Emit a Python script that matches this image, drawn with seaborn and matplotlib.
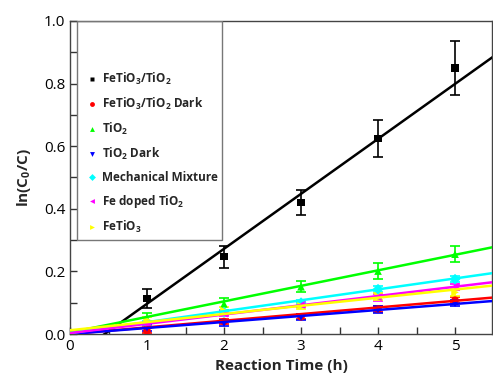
import numpy as np
import pandas as pd
import matplotlib
matplotlib.use("Agg")
import matplotlib.pyplot as plt
from matplotlib.patches import Rectangle
from matplotlib.ticker import MultipleLocator
import seaborn as sns

# ---- data ----
time_h = [1, 2, 3, 4, 5]
labels = ["FeTiO$_3$/TiO$_2$", "FeTiO$_3$/TiO$_2$ Dark", "TiO$_2$", "TiO$_2$ Dark",
          "Mechanical Mixture", "Fe doped TiO$_2$", "FeTiO$_3$"]
colors = ["#000000", "#ff0000", "#00ff00", "#0000ff", "#00ffff", "#ff00ff", "#ffff00"]
markers = ["s", "o", "^", "v", "D", "<", ">"]

fetio3_tio2 = [0.114, 0.247, 0.42, 0.625, 0.85]
fetio3_tio2_dark = [0.010, 0.040, 0.055, 0.080, 0.108]
tio2 = [0.048, 0.096, 0.151, 0.201, 0.255]
tio2_dark = [0.020, 0.035, 0.054, 0.078, 0.098]
mech_mix = [0.035, 0.070, 0.100, 0.143, 0.175]
fe_doped = [0.030, 0.065, 0.093, 0.117, 0.151]
fetio3 = [0.045, 0.075, 0.090, 0.120, 0.133]

err_fetio3_tio2 = [0.03, 0.035, 0.04, 0.06, 0.085]
err_fetio3_tio2_dark = [0.008, 0.008, 0.008, 0.01, 0.01]
err_tio2 = [0.02, 0.02, 0.018, 0.025, 0.025]
err_tio2_dark = [0.01, 0.01, 0.01, 0.01, 0.01]
err_mech_mix = [0.008, 0.008, 0.008, 0.01, 0.01]
err_fe_doped = [0.008, 0.008, 0.008, 0.01, 0.01]
err_fetio3 = [0.01, 0.01, 0.01, 0.01, 0.01]

# linear fits (slope, intercept)
fit_slope = [0.1756, 0.0212, 0.0496, 0.0192, 0.0349, 0.0296, 0.026]
fit_intercept = [-0.079, 0.0, 0.005, 0.0, 0.003, 0.003, 0.012]

values = [fetio3_tio2, fetio3_tio2_dark, tio2, tio2_dark, mech_mix, fe_doped, fetio3]
errors = [err_fetio3_tio2, err_fetio3_tio2_dark, err_tio2, err_tio2_dark,
          err_mech_mix, err_fe_doped, err_fetio3]

# ---- style ----
sns.set_style("ticks")
plt.rcParams["font.family"] = ["Open Sans", "DejaVu Sans"]
plt.rcParams["mathtext.fontset"] = "custom"
plt.rcParams["mathtext.rm"] = "Open Sans:bold"
plt.rcParams["mathtext.default"] = "rm"

fig = plt.figure(figsize=(4.93, 3.83), dpi=100)
ax = fig.add_axes([70 / 493, 49 / 383, 422 / 493, 313 / 383])

points = pd.DataFrame({
    "time": np.tile(time_h, len(labels)),
    "value": np.concatenate(values),
    "sample": np.repeat(labels, len(time_h)),
})

xfit = np.linspace(0, 5.6, 50)
fits = pd.DataFrame({
    "time": np.tile(xfit, len(labels)),
    "value": np.concatenate([s * xfit + b for s, b in zip(fit_slope, fit_intercept)]),
    "sample": np.repeat(labels, len(xfit)),
})

for lab, col, y, e in zip(labels, colors, values, errors):
    ax.errorbar(time_h, y, yerr=e, fmt="none", ecolor=col, elinewidth=1.2,
                capsize=3.5, capthick=1.2, zorder=2)

sns.scatterplot(data=points, x="time", y="value", hue="sample", style="sample",
                palette=dict(zip(labels, colors)), markers=dict(zip(labels, markers)),
                s=30, edgecolor="none", ax=ax, zorder=3)
sns.lineplot(data=fits, x="time", y="value", hue="sample",
             palette=dict(zip(labels, colors)), linewidth=1.8, legend=False,
             ax=ax, zorder=4)

ax.set_xlim(0, 5.48)
ax.set_ylim(0, 1.0)
ax.xaxis.set_major_locator(MultipleLocator(1))
ax.xaxis.set_minor_locator(MultipleLocator(0.5))
ax.yaxis.set_major_locator(MultipleLocator(0.2))
ax.yaxis.set_minor_locator(MultipleLocator(0.1))
ax.set_yticks(np.arange(0, 1.01, 0.2))
ax.set_yticklabels([f"{v:.1f}" for v in np.arange(0, 1.01, 0.2)])
ax.tick_params(which="both", direction="in", length=5, width=1, colors="#333333",
               labelsize=11, labelcolor="black")
for sp in ax.spines.values():
    sp.set_color("#444444")
    sp.set_linewidth(1)

ax.set_xlabel("Reaction Time (h)", fontsize=11, fontweight="bold", labelpad=4)
ax.set_ylabel("ln(C$_0$/C)", fontsize=11, fontweight="bold", labelpad=8)

# legend frame drawn separately
ax.add_patch(Rectangle((0.017, 0.30), 0.343, 0.70, transform=ax.transAxes,
                       fill=False, edgecolor="#777777", linewidth=1, zorder=5))
handles, lbls = ax.get_legend_handles_labels()
for h in handles:
    h.set_markersize(3.5)
leg = ax.legend(handles, lbls, loc="upper left", bbox_to_anchor=(0.03, 0.855),
                frameon=False, prop={"weight": "bold", "size": 8.5},
                handlelength=0.8, handletextpad=0.45, labelspacing=0.75,
                borderaxespad=0)

fig.savefig("out.png", dpi=100)
